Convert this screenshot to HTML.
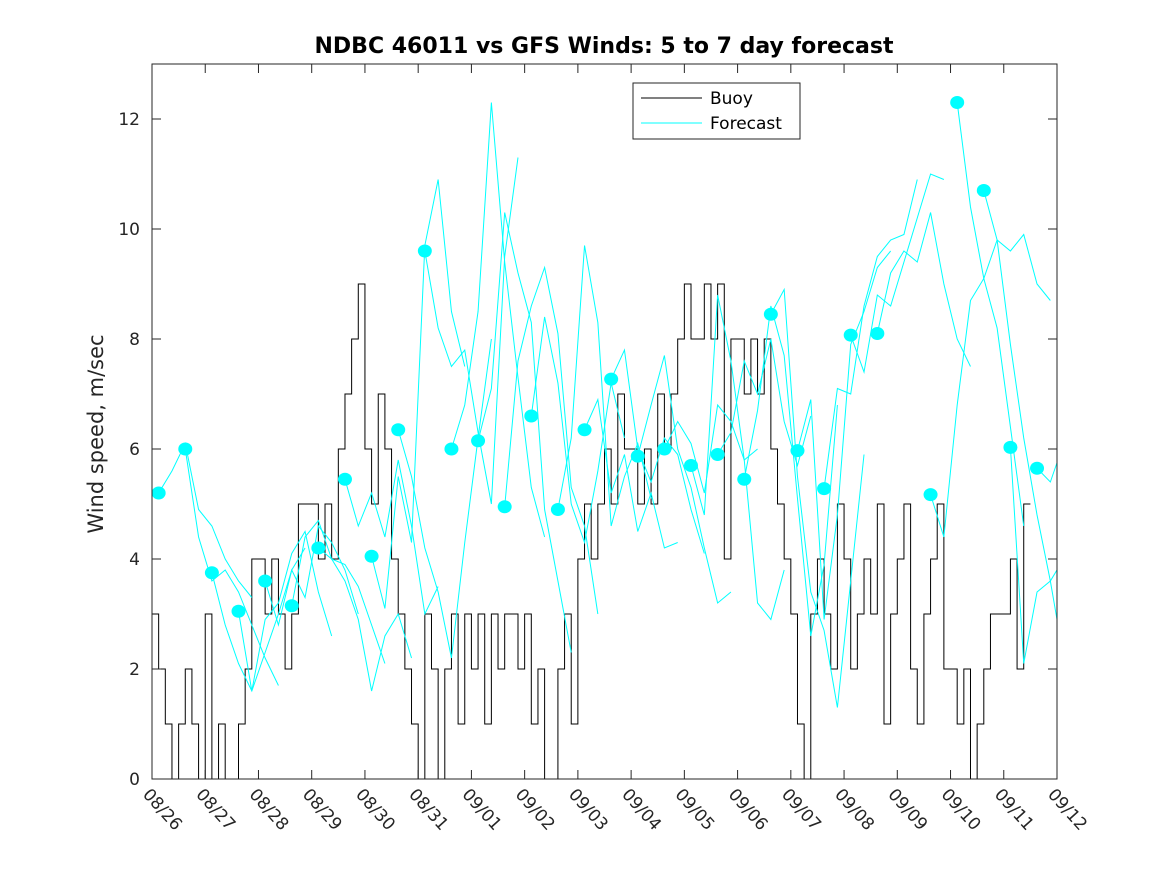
<!DOCTYPE html>
<html><head><meta charset="utf-8"><style>
body{margin:0;background:#fff;width:1167px;height:875px;overflow:hidden}
svg{font-family:"DejaVu Sans","Liberation Sans",sans-serif}
</style></head><body>
<svg id="c" width="1167" height="875"></svg>
<script>
const dayLabels=["08/26","08/27","08/28","08/29","08/30","08/31","09/01","09/02","09/03","09/04","09/05","09/06","09/07","09/08","09/09","09/10","09/11","09/12"];
const yTicks=[0,2,4,6,8,10,12];
const buoy=[3,2,1,0,1,2,1,0, 3,0,1,0,0,1,2,4, 4,3,4,3,2,3,5,5, 5,4,5,4,6,7,8,9, 6,5,7,6,4,3,2,1, 0,3,2,0,2,3,1,3, 2,3,1,3,2,3,3,2, 3,1,2,0,0,2,3,1, 4,5,4,5,6,5,7,6, 6,5,6,5,7,6,7,8, 9,8,8,9,8,9,4,8, 8,7,8,7,8,6,5,4, 3,1,0,3,4,3,2,5, 4,2,3,4,3,5,1,3, 4,5,2,1,3,4,5,2, 2,1,2,0,1,2,3,3, 3,4,2,5];
const fcStarts=[0.125,0.625,1.125,1.625,2.125,2.625,3.125,3.625,4.125,4.625,5.125,5.625,6.125,6.625,7.125,7.625,8.125,8.625,9.125,9.625,10.125,10.625,11.125,11.625,12.125,12.625,13.125,13.625,14.625,15.125,15.625,16.125,16.625];
const fcValues=[
[5.2,5.6,6.1,4.9,4.6,4.0,3.6,3.3],[6.0,4.4,3.6,3.8,3.4,2.8,2.2,1.7],[3.75,2.8,2.1,1.6,2.3,3.0,3.8,4.2],[3.05,1.6,2.9,3.2,4.1,4.5,3.4,2.6],
[3.6,2.8,3.8,3.3,4.6,4.3,3.8,3.0],[3.15,4.4,4.7,4.0,3.9,3.5,2.8,2.1],[4.2,4.0,3.6,2.9,1.6,2.6,3.0,2.2],[5.45,4.6,5.2,4.4,5.8,4.6,3.0,3.5],
[4.05,3.1,5.5,4.3,9.7,10.9,8.5,7.5],[6.35,5.5,4.2,3.4,2.2,4.3,6.2,8.0],[9.6,8.2,7.5,7.8,6.3,5.0,9.5,11.3],[6.0,6.8,8.5,12.3,9.4,7.3,5.3,4.4],
[6.15,7.1,10.3,9.2,8.3,4.9,3.6,2.3],[4.95,7.6,8.6,9.3,8.1,5.3,4.6,3.0],[6.6,8.4,7.2,5.0,4.3,5.6,7.2,6.2],[4.9,6.2,9.7,8.3,4.6,5.5,6.1,5.1],
[6.35,6.9,5.2,5.9,4.5,5.2,4.2,4.3],[7.27,7.8,6.0,5.4,6.2,5.9,4.9,4.1],[5.87,6.8,7.7,6.0,5.3,4.2,3.2,3.4],[6.0,6.5,6.1,5.2,6.8,6.5,5.8,6.0],
[5.7,4.8,8.8,7.6,5.8,3.2,2.9,3.8],[5.9,6.3,7.6,7.0,8.0,6.5,5.7,6.6],[5.45,6.7,8.6,7.7,5.1,2.6,3.9,6.8],[8.45,8.9,5.5,3.4,2.7,1.3,3.6,5.9],
[5.97,6.9,2.9,4.8,7.9,8.5,9.3,9.6],[5.28,7.1,7.0,8.6,9.5,9.8,9.9,10.9],[8.07,7.4,8.8,8.6,9.4,10.2,11.0,10.9],[8.1,9.2,9.6,9.4,10.3,9.0,8.0,7.5],
[5.17,4.4,6.8,8.7,9.1,8.2,6.4,4.6],[12.3,10.4,9.1,9.8,9.6,9.9,9.0,8.7],[10.7,9.8,7.9,6.2,4.8,3.6,2.2,1.6],[6.03,2.1,3.4,3.6,4.0,3.8,2.9,3.7],
[5.65,5.4,6.1]];
const L=152,R=1057,T=64,B=779,YMAX=13,DAYS=17;
const X=d=>L+d/DAYS*(R-L), Y=v=>B-v/YMAX*(B-T);
const svg=document.getElementById('c'),NS='http://www.w3.org/2000/svg';
function mk(t,a,p){const e=document.createElementNS(NS,t);for(const k in a)e.setAttribute(k,a[k]);(p||svg).appendChild(e);return e;}
mk('rect',{x:L,y:T,width:R-L,height:B-T,fill:'#fff'});
const defs=mk('defs',{});const cp=mk('clipPath',{id:'pc'},defs);mk('rect',{x:L,y:T,width:R-L,height:B-T},cp);
let d='';buoy.forEach((v,i)=>{const x0=X(i/8),x1=X((i+1)/8);d+=(i?'L':'M')+x0+','+Y(v)+'L'+x1+','+Y(v);});
const bl=mk('path',{d:d,fill:'none',stroke:'#000','stroke-width':1,'clip-path':'url(#pc)'});


fcValues.forEach((s,k)=>{
 const pts=s.map((v,j)=>X(fcStarts[k]+j*0.25)+','+Y(v)).join(' ');
 const pl=mk('polyline',{points:pts,fill:'none',stroke:'#00ffff','stroke-width':1,'clip-path':'url(#pc)'});
 
 
 const c=mk('ellipse',{cx:X(fcStarts[k]),cy:Y(s[0]),rx:7,ry:6.5,fill:'#00ffff'});
 
 
});
mk('rect',{x:L,y:T,width:R-L,height:B-T,fill:'none',stroke:'#262626','stroke-width':1});
dayLabels.forEach((lab,i)=>{const x=X(i);
 mk('line',{x1:x,x2:x,y1:B,y2:B-9,stroke:'#262626'});mk('line',{x1:x,x2:x,y1:T,y2:T+9,stroke:'#262626'});
 const t=mk('text',{x:0,y:0,transform:`translate(${x-10},${B+16}) rotate(48)`,'font-size':17,fill:'#262626'});t.textContent=lab;
 
 
});
yTicks.forEach(v=>{const y=Y(v);
 mk('line',{x1:L,x2:L+9,y1:y,y2:y,stroke:'#262626'});mk('line',{x1:R,x2:R-9,y1:y,y2:y,stroke:'#262626'});
 const t=mk('text',{x:L-12,y:y+6,'text-anchor':'end','font-size':17,fill:'#262626'});t.textContent=v;
 
 
});
</script>
<svg style="position:absolute;left:0;top:0" width="1167" height="875">
<text x="604" y="53" text-anchor="middle" font-size="22" font-weight="bold" fill="#000">NDBC 46011 vs GFS Winds: 5 to 7 day forecast</text>
<text transform="translate(103,434) rotate(-90)" text-anchor="middle" font-size="21" fill="#262626">Wind speed, m/sec</text>
<g>
<rect x="633" y="83" width="167" height="56" fill="#fff" stroke="#262626"/>
<line x1="641" x2="702" y1="98" y2="98" stroke="#000"/>
<text x="710" y="104" font-size="17" fill="#000">Buoy</text>
<line x1="641" x2="702" y1="123" y2="123" stroke="#00ffff"/>
<text x="710" y="129" font-size="17" fill="#000">Forecast</text>
</g>
</svg>
</body></html>
